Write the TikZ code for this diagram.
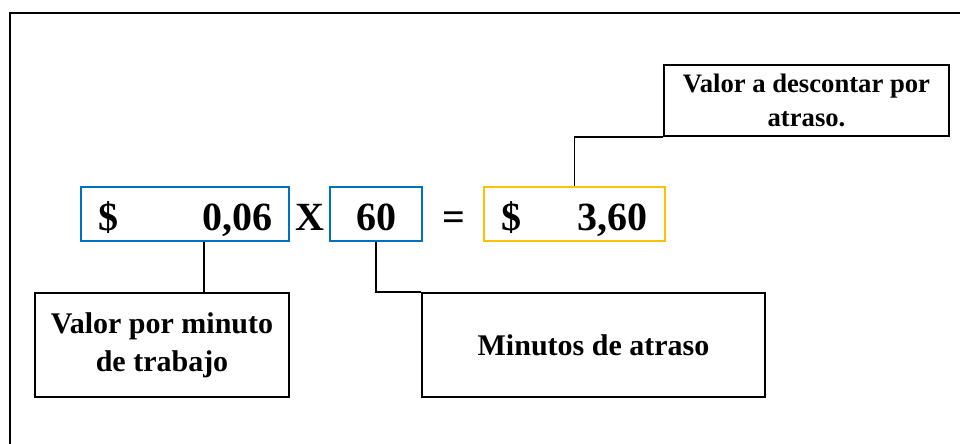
\documentclass[tikz,border=0pt]{standalone}
\usepackage{fontspec}
\setmainfont{Liberation Serif}
\usepackage{xcolor}
\usepackage{tikz}
\definecolor{boxblue}{RGB}{0,112,192}
\definecolor{boxgold}{RGB}{255,192,0}

\begin{document}
\begin{tikzpicture}[x=0.75pt, y=-0.75pt,
    nb/.style={draw=boxblue, line width=2.2pt, minimum height=40.5pt, inner sep=0pt,
               text height=25pt, text depth=1pt, font=\fontsize{30}{30}\selectfont\bfseries},
    op/.style={inner sep=0pt, text height=25pt, text depth=1pt,
               font=\fontsize{30}{30}\selectfont\bfseries},
    lb/.style={draw, line width=1.5pt, align=center, inner sep=0pt,
               font=\fontsize{22.5}{28.5}\selectfont\bfseries},
    ln/.style={line width=1.1pt}]
    \useasboundingbox (0,0) rectangle (960,443);
    \draw[line width=1.5pt] (10,13) rectangle (985,470);

    % the product
    \node[nb, minimum width=156pt] (vpm) at (185,214) {\$\hspace{63pt}0,06};
    \node[op] (times) at (310,214) {X};
    \node[nb, minimum width=69pt] (mins) at (376,214) {60};
    \node[op] (eq) at (454,214) {=};
    \node[nb, draw=boxgold, minimum width=135.75pt] (res) at (574.5,214) {\$\hspace{42pt}3,60};

    % labels
    \node[lb, minimum width=190.5pt, minimum height=78pt] (lvpm) at (162,345) {Valor por minuto\\de trabajo};
    \node[lb, minimum width=257.25pt, minimum height=78pt] (lmin) at (593.5,345) {Minutos de atraso};
    \node[lb, minimum width=213.75pt, minimum height=53.25pt,
          font=\fontsize{20}{25}\selectfont\bfseries] (lres) at (806.5,100.5) {Valor a descontar por\\atraso.};

    \draw[ln] ([xshift=14.25pt]vpm.south) -- ([xshift=14.25pt]vpm.south |- lvpm.north);
    \draw[ln] (mins.south) |- (lmin.north west);
    \draw[ln] (res.north) |- (lres.south west);
\end{tikzpicture}
\end{document}
